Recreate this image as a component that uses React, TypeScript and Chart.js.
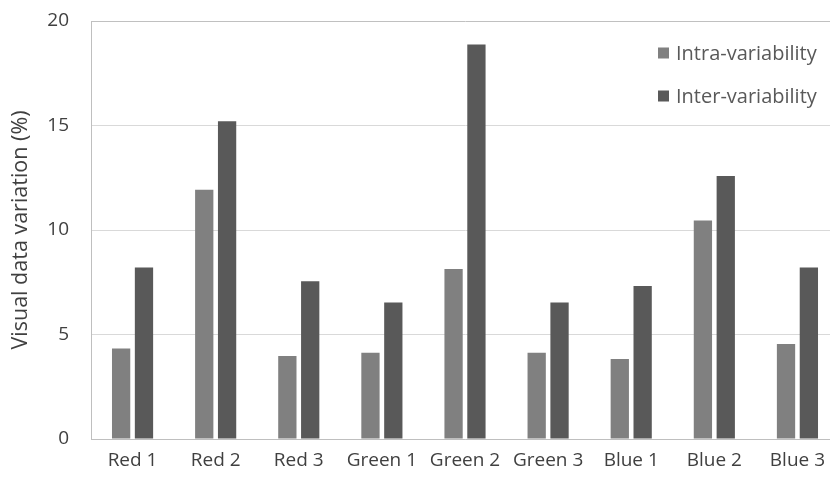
import React, { useEffect, useRef } from "react";
import { Chart, registerables } from "chart.js";

Chart.register(...registerables);

const categories = ["Red 1", "Red 2", "Red 3", "Green 1", "Green 2", "Green 3", "Blue 1", "Blue 2", "Blue 3"];
const intraValues = [4.33, 11.93, 3.97, 4.13, 8.13, 4.13, 3.83, 10.46, 4.55];
const interValues = [8.2, 15.2, 7.55, 6.53, 18.87, 6.53, 7.32, 12.58, 8.2];
const seriesLabels = ["Intra-variability", "Inter-variability"];
const seriesColors = ["#808080", "#595959"];
const yTitle = "Visual data variation (%)";
const yMin = 0;
const yMax = 20;
const yStep = 5;

const FONT = "'Open Sans', 'Noto Sans', sans-serif";

const insideLegend = {
  id: "insideLegend",
  afterDraw(chart: any) {
    const ctx = chart.ctx;
    ctx.save();
    ctx.font = `20px ${FONT}`;
    ctx.textBaseline = "middle";
    ctx.textAlign = "left";
    const rows = [53, 96];
    chart.data.datasets.forEach((ds: any, i: number) => {
      const y = rows[i];
      ctx.fillStyle = ds.backgroundColor;
      ctx.fillRect(658, y - 5.5, 11, 11);
      ctx.fillStyle = "#595959";
      ctx.fillText(ds.label, 676, y + 1);
    });
    ctx.restore();
  },
};

export default function App() {
  const ref = useRef<HTMLCanvasElement | null>(null);

  useEffect(() => {
    document.body.style.margin = "0";
    if (!ref.current) return;
    const chart = new Chart(ref.current, {
      type: "bar",
      data: {
        labels: categories,
        datasets: [
          {
            label: seriesLabels[0],
            data: intraValues,
            backgroundColor: seriesColors[0],
            categoryPercentage: 0.55,
            barPercentage: 0.8,
          },
          {
            label: seriesLabels[1],
            data: interValues,
            backgroundColor: seriesColors[1],
            categoryPercentage: 0.55,
            barPercentage: 0.8,
          },
        ],
      },
      options: {
        responsive: false,
        animation: false,
        devicePixelRatio: 1,
        layout: { padding: { top: 21, right: 0, left: 0, bottom: 0 } },
        plugins: {
          legend: { display: false },
          tooltip: { enabled: false },
        },
        scales: {
          x: {
            grid: { display: false, drawTicks: false },
            border: { display: true, color: "#bfbfbf" },
            ticks: {
              color: "#404040",
              font: { family: FONT, size: 19 },
              padding: 10,
              maxRotation: 0,
              autoSkip: false,
            },
            afterFit: (s: any) => {
              s.height = 39;
            },
          },
          y: {
            min: yMin,
            max: yMax,
            ticks: {
              stepSize: yStep,
              color: "#404040",
              font: { family: FONT, size: 19 },
              padding: 3,
            },
            grid: {
              drawTicks: true,
              tickLength: 19,
              tickColor: "rgba(0,0,0,0)",
              color: (c: any) => (c.tick && c.tick.value === yMax ? "#c0c0c0" : "#d9d9d9"),
            },
            border: { display: true, color: "#bfbfbf" },
            title: {
              display: true,
              text: yTitle,
              color: "#404040",
              font: { family: FONT, size: 21.5 },
              padding: { top: 8, bottom: 0 },
            },
            afterFit: (s: any) => {
              s.width = 91;
            },
          },
        },
      },
      plugins: [insideLegend],
    });
    return () => chart.destroy();
  }, []);

  return (
    <div style={{ width: 830, height: 478, overflow: "hidden", background: "#fff" }}>
      <canvas ref={ref} width={839} height={478} style={{ display: "block", width: 839, height: 478 }} />
    </div>
  );
}
